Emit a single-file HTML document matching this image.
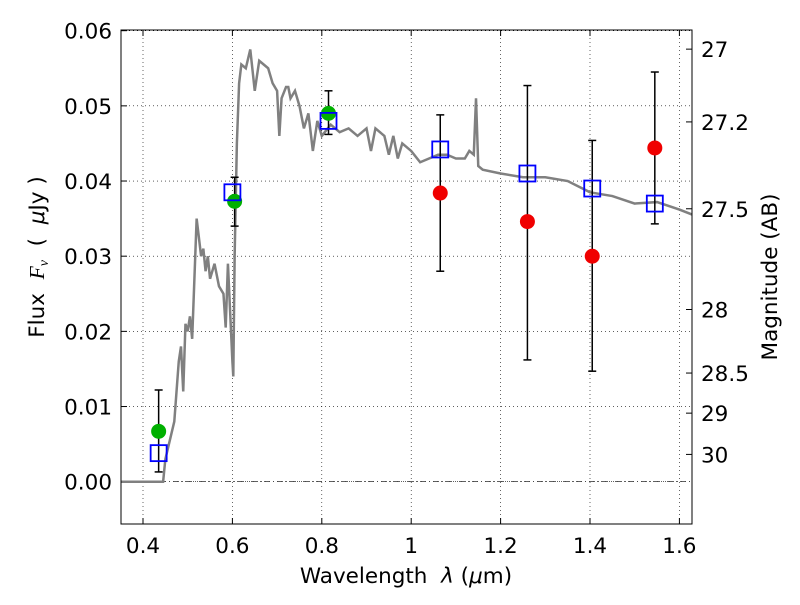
<!DOCTYPE html>
<html><head><meta charset="utf-8"><style>
body{margin:0;background:#fff;}
text{font-family:"DejaVu Sans","Liberation Sans",sans-serif;white-space:pre;}
</style></head><body>
<svg id="chart" width="800" height="600" xmlns="http://www.w3.org/2000/svg"></svg>
<script>
const xTicks=[0.4,0.6,0.8,1.0,1.2,1.4,1.6];
const xTickLabels=["0.4","0.6","0.8","1","1.2","1.4","1.6"];
const yTicks=[0,0.01,0.02,0.03,0.04,0.05,0.06];
const yTickLabels=["0.00","0.01","0.02","0.03","0.04","0.05","0.06"];
const magTicks=[27,27.2,27.5,28,28.5,29,30];
const magTickLabels=["27","27.2","27.5","28","28.5","29","30"];
const specLam=[0.32,0.445,0.45,0.47,0.48,0.485,0.49,0.495,0.5,0.505,0.51,0.52,0.53,0.535,0.54,0.545,0.55,0.56,0.57,0.58,0.585,0.59,0.6,0.602,0.605,0.61,0.615,0.62,0.63,0.64,0.65,0.66,0.67,0.68,0.69,0.7,0.705,0.71,0.72,0.725,0.73,0.74,0.75,0.76,0.77,0.78,0.79,0.8,0.82,0.84,0.86,0.88,0.9,0.91,0.92,0.94,0.95,0.96,0.97,0.98,1.0,1.02,1.04,1.06,1.08,1.1,1.12,1.13,1.14,1.145,1.15,1.16,1.2,1.25,1.3,1.35,1.4,1.45,1.5,1.55,1.6,1.63];
const specFlux=[0,0,0.003,0.008,0.016,0.018,0.012,0.021,0.02,0.022,0.019,0.035,0.03,0.031,0.028,0.03,0.027,0.029,0.026,0.025,0.0205,0.029,0.016,0.014,0.03,0.045,0.053,0.0555,0.055,0.0575,0.052,0.056,0.0555,0.055,0.053,0.052,0.046,0.051,0.0525,0.0525,0.051,0.052,0.05,0.047,0.049,0.044,0.048,0.046,0.0475,0.0465,0.047,0.046,0.047,0.044,0.047,0.046,0.0435,0.046,0.043,0.045,0.044,0.0425,0.043,0.0435,0.0435,0.043,0.043,0.044,0.0435,0.051,0.042,0.0415,0.041,0.0405,0.0405,0.04,0.0385,0.038,0.037,0.0372,0.0362,0.0355];
const greenLam=[0.435,0.605,0.815];
const greenFlux=[0.0067,0.0373,0.049];
const redLam=[1.065,1.26,1.405,1.545];
const redFlux=[0.0384,0.0346,0.0300,0.0444];
const modelLam=[0.435,0.6,0.815,1.065,1.26,1.405,1.545];
const modelFlux=[0.0038,0.0385,0.048,0.0442,0.041,0.039,0.037];
const errLam=[0.435,0.605,0.815,1.065,1.26,1.405,1.545];
const errLo=[0.0013,0.034,0.0462,0.028,0.0162,0.0147,0.0343];
const errHi=[0.0122,0.0405,0.052,0.0488,0.0527,0.0454,0.0545];

const L=121,R=692,T=30,B=524;
const X=v=>143+(v-0.4)*447;
const Y=v=>481.7-v*7517;
const magToFlux=m=>Math.pow(10,(23.9-m)/2.5);
const svg=document.getElementById('chart');
const NS="http://www.w3.org/2000/svg";
function mk(tag,attrs,parent){const e=document.createElementNS(NS,tag);for(const k in attrs)e.setAttribute(k,attrs[k]);(parent||svg).appendChild(e);return e;}

const clip=mk('clipPath',{id:'pc'});mk('rect',{x:L,y:T,width:R-L,height:B-T},clip);
xTicks.forEach((v,i)=>{
  const g=mk('line',{x1:X(v),x2:X(v),y1:T,y2:B,stroke:'#000','stroke-width':0.6,'stroke-dasharray':'1,3'});
  
  
  mk('line',{x1:X(v),x2:X(v),y1:B,y2:B-6,stroke:'#000'});
  mk('line',{x1:X(v),x2:X(v),y1:T,y2:T+6,stroke:'#000'});
  const t=mk('text',{x:X(v),y:B+29,'text-anchor':'middle','font-size':21.5});
  t.textContent=xTickLabels[i];
  
  
});
yTicks.forEach((v,i)=>{
  const g=mk('line',{x1:L,x2:R,y1:Y(v),y2:Y(v),stroke:'#000','stroke-width':0.6,'stroke-dasharray':'1,3'});
  
  
  mk('line',{x1:L,x2:L+6,y1:Y(v),y2:Y(v),stroke:'#000'});
  const t=mk('text',{x:L-9,y:Y(v)+8,'text-anchor':'end','font-size':21.5});
  t.textContent=yTickLabels[i];
  
  
});
magTicks.forEach((m,i)=>{
  const y=Y(magToFlux(m));
  mk('line',{x1:R,x2:R-6,y1:y,y2:y,stroke:'#000'});
  const t=mk('text',{x:R+9,y:y+8,'font-size':21.5});
  t.textContent=magTickLabels[i];
  
  
});
const z=mk('line',{x1:L,x2:R,y1:Y(0),y2:Y(0),stroke:'#000','stroke-width':0.6,'stroke-dasharray':'6,3,1,3'});


const sp=mk('polyline',{points:specLam.map((l,i)=>X(l)+','+Y(specFlux[i])).join(' '),fill:'none',stroke:'#808080','stroke-width':2.5,'clip-path':'url(#pc)'});


errLam.forEach((l,i)=>{
  const x=X(l);
  const e=mk('line',{x1:x,x2:x,y1:Y(errLo[i]),y2:Y(errHi[i]),stroke:'#000','stroke-width':1.5});
  
  
  mk('line',{x1:x-4,x2:x+4,y1:Y(errLo[i]),y2:Y(errLo[i]),stroke:'#000','stroke-width':1.5});
  mk('line',{x1:x-4,x2:x+4,y1:Y(errHi[i]),y2:Y(errHi[i]),stroke:'#000','stroke-width':1.5});
});
greenLam.forEach((l,i)=>{
  const c=mk('circle',{cx:X(l),cy:Y(greenFlux[i]),r:7.5,fill:'#00b000'});
  
  
});
redLam.forEach((l,i)=>{
  const c=mk('circle',{cx:X(l),cy:Y(redFlux[i]),r:7.5,fill:'#f00000'});
  
  
});
modelLam.forEach((l,i)=>{
  const s=mk('rect',{x:X(l)-8,y:Y(modelFlux[i])-8,width:16,height:16,fill:'none',stroke:'#0000ff','stroke-width':1.8});
  
  
});
const f=mk('rect',{x:L,y:T,width:R-L,height:B-T,fill:'none',stroke:'#000','stroke-width':1});


const xt=mk('text',{x:406,y:583,'text-anchor':'middle','font-size':21.5});
xt.innerHTML='Wavelength  <tspan font-style="italic">λ</tspan> (<tspan font-style="italic">μ</tspan>m)';


const yt=mk('text',{x:0,y:0,'text-anchor':'middle','font-size':21.5,transform:'translate(44,257) rotate(-90)'});
yt.innerHTML='Flux  <tspan font-style="italic" font-family="Liberation Serif">F<tspan font-size="14" dy="4">ν</tspan></tspan><tspan dy="-4">  (  </tspan><tspan font-style="italic">μ</tspan>Jy )';


const rt=mk('text',{x:0,y:0,'text-anchor':'middle','font-size':21.5,transform:'translate(777,277) rotate(-90)'});
rt.textContent='Magnitude (AB)';


</script>
</body></html>
